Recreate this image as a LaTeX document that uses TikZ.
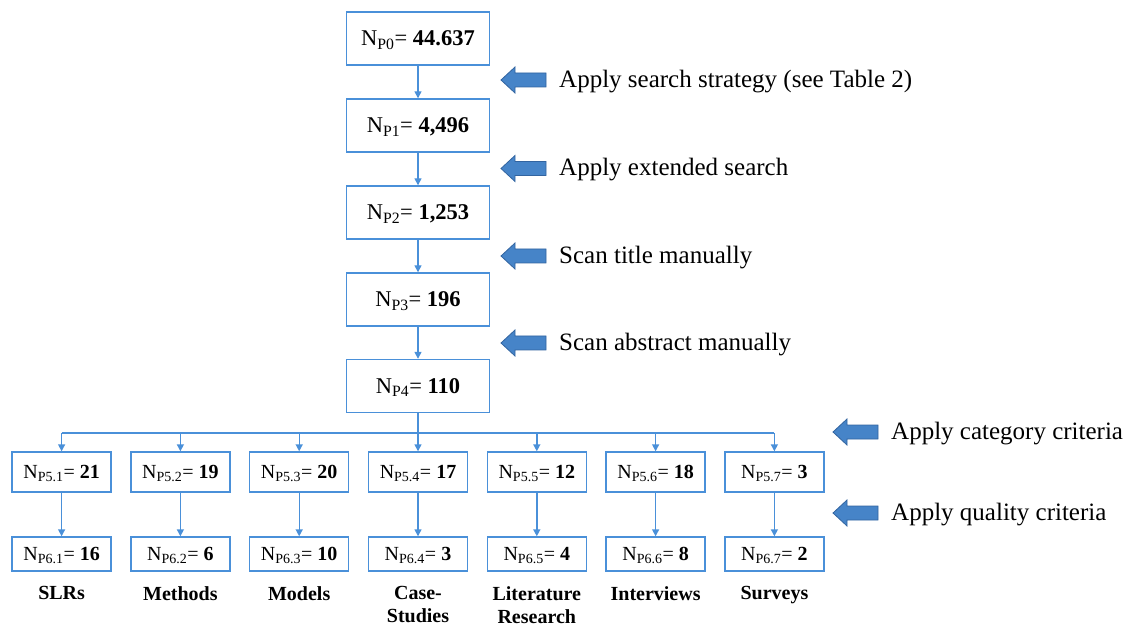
\documentclass[tikz,border=0pt]{standalone}
\usepackage{fontspec}
\setmainfont{Liberation Serif}
\usepackage{xcolor}
\usepackage{tikz}
\usetikzlibrary{arrows.meta}
\definecolor{boxblue}{RGB}{74,144,217}
\definecolor{arrowfill}{RGB}{70,132,200}
\definecolor{arrowedge}{RGB}{50,100,160}

\begin{document}
\begin{tikzpicture}%
                    [x=1pt, y=-1pt,
                    stagebox/.style={draw=boxblue, line width=1.4pt, minimum width=143pt, minimum height=53pt, inner sep=0pt, font=\fontsize{22.5}{27}\selectfont, text height=17pt, text depth=2.1pt},
                    catbox/.style={draw=boxblue, line width=1.4pt, minimum width=99pt, minimum height=40pt, inner sep=0pt, font=\fontsize{20}{24}\selectfont, text height=15.2pt, text depth=2pt},
                    qualbox/.style={catbox, minimum height=34pt},
                    catlabel/.style={anchor=north, inner sep=0pt, align=center, font=\fontsize{20}{23}\selectfont\bfseries},
                    flow/.style={draw=boxblue, line width=1.4pt, -{Triangle[length=7pt,width=7pt]}},
                    busline/.style={draw=boxblue, line width=1.4pt},
                    bigarrow/.style={fill=arrowfill, draw=arrowedge, line width=0.8pt, line join=miter},
                    steptext/.style={anchor=base west, inner sep=0pt, font=\fontsize{25}{30}\selectfont}]
                \useasboundingbox (0,0) rectangle (1130,628);
                %% Drawing the search stages
                \node[stagebox] (p0) at (418,38.5) {N\textsubscript{P0}= \textbf{44.637}};
                \node[stagebox] (p1) at (418,125.5) {N\textsubscript{P1}= \textbf{4,496}};
                \node[stagebox] (p2) at (418,212.5) {N\textsubscript{P2}= \textbf{1,253}};
                \node[stagebox] (p3) at (418,299.5) {N\textsubscript{P3}= \textbf{196}};
                \node[stagebox] (p4) at (418,386) {N\textsubscript{P4}= \textbf{110}};
                \draw[flow] (p0) -- (p1);
                \draw[flow] (p1) -- (p2);
                \draw[flow] (p2) -- (p3);
                \draw[flow] (p3) -- (p4);
                %%
                %% Drawing the categories
                %%
                \node[catbox] (p51) at (61.6,472) {N\textsubscript{P5.1}= \textbf{21}};
                \node[catbox] (p52) at (180.4,472) {N\textsubscript{P5.2}= \textbf{19}};
                \node[catbox] (p53) at (299.2,472) {N\textsubscript{P5.3}= \textbf{20}};
                \node[catbox] (p54) at (418,472) {N\textsubscript{P5.4}= \textbf{17}};
                \node[catbox] (p55) at (536.8,472) {N\textsubscript{P5.5}= \textbf{12}};
                \node[catbox] (p56) at (655.6,472) {N\textsubscript{P5.6}= \textbf{18}};
                \node[catbox] (p57) at (774.4,472) {N\textsubscript{P5.7}= \textbf{3}};
                \node[qualbox] (p61) at (61.6,554) {N\textsubscript{P6.1}= \textbf{16}};
                \node[qualbox] (p62) at (180.4,554) {N\textsubscript{P6.2}= \textbf{6}};
                \node[qualbox] (p63) at (299.2,554) {N\textsubscript{P6.3}= \textbf{10}};
                \node[qualbox] (p64) at (418,554) {N\textsubscript{P6.4}= \textbf{3}};
                \node[qualbox] (p65) at (536.8,554) {N\textsubscript{P6.5}= \textbf{4}};
                \node[qualbox] (p66) at (655.6,554) {N\textsubscript{P6.6}= \textbf{8}};
                \node[qualbox] (p67) at (774.4,554) {N\textsubscript{P6.7}= \textbf{2}};
                \node[catlabel] (l1) at (61.6,586) {SLRs};
                \node[catlabel] (l2) at (180.4,586) {Methods};
                \node[catlabel] (l3) at (299.2,586) {Models};
                \node[catlabel] (l4) at (418,586) {Case-\\Studies};
                \node[catlabel] (l5) at (536.8,586) {Literature\\Research};
                \node[catlabel] (l6) at (655.6,586) {Interviews};
                \node[catlabel] (l7) at (774.4,586) {Surveys};
                %% Splitting into categories
                \coordinate (bus) at (418,433);
                \draw[busline] (p4) -- (bus);
                \draw[busline] (p51.north |- bus) -- (p57.north |- bus);
                \draw[flow] (p51.north |- bus) -- (p51);
                \draw[flow] (p52.north |- bus) -- (p52);
                \draw[flow] (p53.north |- bus) -- (p53);
                \draw[flow] (bus) -- (p54);
                \draw[flow] (p55.north |- bus) -- (p55);
                \draw[flow] (p56.north |- bus) -- (p56);
                \draw[flow] (p57.north |- bus) -- (p57);
                \draw[flow] (p51) -- (p61);
                \draw[flow] (p52) -- (p62);
                \draw[flow] (p53) -- (p63);
                \draw[flow] (p54) -- (p64);
                \draw[flow] (p55) -- (p65);
                \draw[flow] (p56) -- (p66);
                \draw[flow] (p57) -- (p67);
                %%
                %% Steps applied between the stages
                %%
                \draw[bigarrow] (501,80) -- ++(14,-13) -- ++(0,6) -- ++(31,0) -- ++(0,14) -- ++(-31,0) -- ++(0,6) -- cycle;
                \draw[bigarrow] (501,168.5) -- ++(14,-13) -- ++(0,6) -- ++(31,0) -- ++(0,14) -- ++(-31,0) -- ++(0,6) -- cycle;
                \draw[bigarrow] (501,256) -- ++(14,-13) -- ++(0,6) -- ++(31,0) -- ++(0,14) -- ++(-31,0) -- ++(0,6) -- cycle;
                \draw[bigarrow] (501,343) -- ++(14,-13) -- ++(0,6) -- ++(31,0) -- ++(0,14) -- ++(-31,0) -- ++(0,6) -- cycle;
                \draw[bigarrow] (833,432) -- ++(14,-13) -- ++(0,6) -- ++(31,0) -- ++(0,14) -- ++(-31,0) -- ++(0,6) -- cycle;
                \draw[bigarrow] (833,513) -- ++(14,-13) -- ++(0,6) -- ++(31,0) -- ++(0,14) -- ++(-31,0) -- ++(0,6) -- cycle;
                \node[steptext] (s1) at (559,87.5) {Apply search strategy (see Table 2)};
                \node[steptext] (s2) at (559,176) {Apply extended search};
                \node[steptext] (s3) at (559,263.5) {Scan title manually};
                \node[steptext] (s4) at (559,350.5) {Scan abstract manually};
                \node[steptext] (s5) at (891,439.5) {Apply category criteria};
                \node[steptext] (s6) at (891,520.5) {Apply quality criteria};
\end{tikzpicture}
\end{document}
